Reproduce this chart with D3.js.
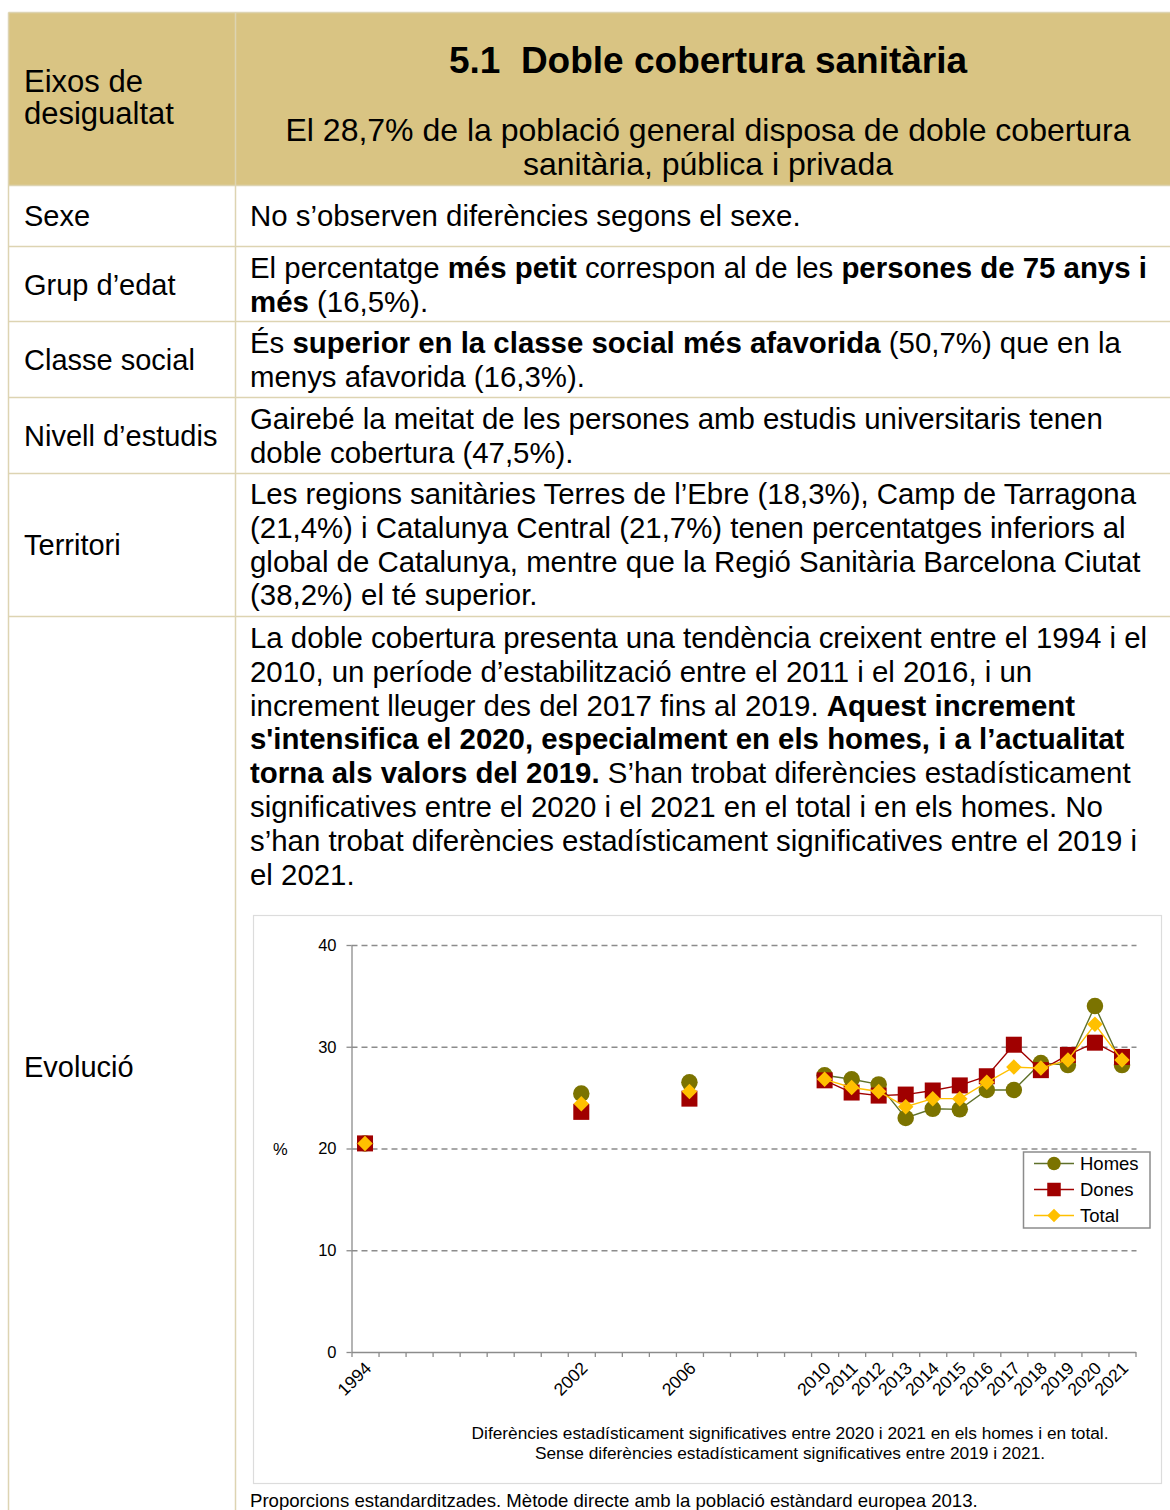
<!DOCTYPE html>
<html>
<head>
<meta charset="utf-8">
<script src="https://cdn.jsdelivr.net/npm/d3@7"></script>
<style>
  html, body { margin: 0; padding: 0; background: #fff; }
  svg { display: block; font-family: "Liberation Sans", Arial, Helvetica, sans-serif; }
</style>
</head>
<body>
<svg id="page" width="1170" height="1510"></svg>
<script>
// ---------- DATA ----------
const categories = ["1994","","","","","","","","2002","","","","2006","","","","",
  "2010","2011","2012","2013","2014","2015","2016","2017","2018","2019","2020","2021"];
const homes = [20.5,null,null,null,null,null,null,null,25.4,null,null,null,26.5,null,null,null,null,
  27.2,26.8,26.3,23.0,23.9,23.85,25.75,25.75,28.4,28.2,34.0,28.2];
const dones = [20.5,null,null,null,null,null,null,null,23.6,null,null,null,24.9,null,null,null,null,
  26.7,25.5,25.2,25.3,25.7,26.2,27.1,30.2,27.7,29.2,30.4,29.0];
const total = [20.5,null,null,null,null,null,null,null,24.4,null,null,null,25.6,null,null,null,null,
  26.8,26.0,25.6,24.1,24.9,24.9,26.5,28.0,27.9,28.7,32.2,28.7];
const yTicks = [0, 10, 20, 30, 40];
const seriesNames = ["Homes", "Dones", "Total"];

const headerLeft = ["Eixos de", "desigualtat"];
const title = "5.1  Doble cobertura sanitària";
const subtitle = ["El 28,7% de la població general disposa de doble cobertura", "sanitària, pública i privada"];
const rowLabels = ["Sexe", "Grup d’edat", "Classe social", "Nivell d’estudis", "Territori", "Evolució"];
const rowTexts = [
  [[["No s’observen diferències segons el sexe.", 0]]],
  [[["El percentatge ", 0], ["més petit", 1], [" correspon al de les ", 0], ["persones de 75 anys i", 1]],
   [["més", 1], [" (16,5%).", 0]]],
  [[["És ", 0], ["superior en la classe social més afavorida", 1], [" (50,7%) que en la", 0]],
   [["menys afavorida (16,3%).", 0]]],
  [[["Gairebé la meitat de les persones amb estudis universitaris tenen", 0]],
   [["doble cobertura (47,5%).", 0]]],
  [[["Les regions sanitàries Terres de l’Ebre (18,3%), Camp de Tarragona", 0]],
   [["(21,4%) i Catalunya Central (21,7%) tenen percentatges inferiors al", 0]],
   [["global de Catalunya, mentre que la Regió Sanitària Barcelona Ciutat", 0]],
   [["(38,2%) el té superior.", 0]]],
  [[["La doble cobertura presenta una tendència creixent entre el 1994 i el", 0]],
   [["2010, un període d’estabilització entre el 2011 i el 2016, i un", 0]],
   [["increment lleuger des del 2017 fins al 2019. ", 0], ["Aquest increment", 1]],
   [["s'intensifica el 2020, especialment en els homes, i a l’actualitat", 1]],
   [["torna als valors del 2019.", 1], [" S’han trobat diferències estadísticament", 0]],
   [["significatives entre el 2020 i el 2021 en el total i en els homes. No", 0]],
   [["s’han trobat diferències estadísticament significatives entre el 2019 i", 0]],
   [["el 2021.", 0]]]
];
const notes = ["Diferències estadísticament significatives entre 2020 i 2021 en els homes i en total.",
               "Sense diferències estadísticament significatives entre 2019 i 2021."];
const footer = "Proporcions estandarditzades. Mètode directe amb la població estàndard europea 2013.";

// ---------- LAYOUT ----------
const svg = d3.select("#page");
const T = { left: 8.5, col: 235.5, right: 1181, top: 12.5, headBottom: 185.5 };
const rowBounds = [185.5, 246.5, 321.5, 397.5, 473.5, 616.5, 1518];
const rowFirstBaseline = [226, 278, 353, 429, 504, 648];
const labelBaseline = [226, 295, 370, 446, 555, 1077];
const lineStep = 33.8;
const borderColor = "#ddd4b2";
const bodySize = 29.4;

// header
svg.append("rect").attr("x", T.left).attr("y", T.top).attr("width", T.right - T.left)
  .attr("height", T.headBottom - T.top).attr("fill", "#d9c483");
const bl = svg.append("g").attr("stroke", borderColor).attr("stroke-width", 1.5);
bl.append("line").attr("x1", T.left).attr("x2", T.right).attr("y1", T.top).attr("y2", T.top);
bl.append("line").attr("x1", T.left).attr("x2", T.left).attr("y1", T.top).attr("y2", 1518);
bl.append("line").attr("x1", T.col).attr("x2", T.col).attr("y1", T.top).attr("y2", 1518);
rowBounds.slice(0, 6).forEach(yy => {
  bl.append("line").attr("x1", T.left).attr("x2", T.right).attr("y1", yy).attr("y2", yy);
});

svg.append("g").selectAll("text").data(headerLeft).join("text")
  .attr("x", 24).attr("y", (d, i) => 91.5 + i * 32.5).attr("font-size", 31).attr("fill", "#000").text(d => d);
svg.append("text").attr("x", 708).attr("y", 73).attr("text-anchor", "middle")
  .attr("font-size", 37).attr("font-weight", "bold").attr("fill", "#000")
  .style("white-space", "pre").text(title);
svg.append("g").selectAll("text").data(subtitle).join("text")
  .attr("x", 708).attr("y", (d, i) => 140.5 + i * 34).attr("text-anchor", "middle")
  .attr("font-size", 32).attr("fill", "#000").text(d => d);

// rows
rowLabels.forEach((lab, r) => {
  svg.append("text").attr("x", 24).attr("y", labelBaseline[r]).attr("font-size", 29)
    .attr("fill", "#000").text(lab);
  rowTexts[r].forEach((line, li) => {
    const t = svg.append("text").attr("x", 250).attr("y", rowFirstBaseline[r] + li * lineStep)
      .attr("font-size", bodySize).attr("fill", "#000").style("white-space", "pre");
    line.forEach(seg => {
      t.append("tspan").attr("font-weight", seg[1] ? "bold" : "normal").text(seg[0]);
    });
  });
});

// ---------- CHART ----------
svg.append("rect").attr("x", 253.5).attr("y", 915.5).attr("width", 908).attr("height", 568)
  .attr("fill", "#fff").attr("stroke", "#dcdcdc").attr("stroke-width", 1.2);

const plot = { x0: 351.5, x1: 1135.5, y0: 1352, y1: 945 };
const xb = d3.scaleLinear().domain([0, categories.length]).range([plot.x0, plot.x1]);
const xc = i => xb(i + 0.5);
const y = d3.scaleLinear().domain([0, 40]).range([plot.y0, plot.y1]);
const axisColor = "#8c8c8c";

// gridlines
const grid = svg.append("g").attr("transform", `translate(${plot.x0},0)`)
  .call(d3.axisLeft(y).tickValues(yTicks.filter(v => v > 0)).tickSize(-(plot.x1 - plot.x0 + 1)).tickFormat(""));
grid.select(".domain").remove();
grid.selectAll("line").attr("stroke", axisColor).attr("stroke-width", 1.3).attr("stroke-dasharray", "6,4");

// y axis
const ya = svg.append("g").attr("transform", `translate(${plot.x0},0)`)
  .call(d3.axisLeft(y).tickValues(yTicks).tickSize(5).tickPadding(10).tickSizeOuter(0));
ya.select(".domain").attr("stroke", axisColor).attr("stroke-width", 1.3);
ya.selectAll(".tick line").attr("stroke", axisColor).attr("stroke-width", 1.3);
ya.selectAll(".tick text").attr("font-size", 16.5).attr("fill", "#000")
  .attr("font-family", "Liberation Sans, Arial, sans-serif");
svg.append("text").attr("x", 273).attr("y", y(20) + 6).attr("font-size", 16.5).attr("fill", "#000").text("%");

// x axis
const xa = svg.append("g").attr("transform", `translate(0,${plot.y0})`)
  .call(d3.axisBottom(xb).tickValues(d3.range(categories.length + 1)).tickSize(5).tickSizeOuter(0).tickFormat(""));
xa.select(".domain").attr("stroke", axisColor).attr("stroke-width", 1.3);
xa.selectAll(".tick line").attr("stroke", axisColor).attr("stroke-width", 1.3);
svg.append("g").selectAll("text").data(categories.map((c, i) => ({ c, i })).filter(d => d.c !== "")).join("text")
  .attr("transform", d => `translate(${xc(d.i) + 3},${plot.y0 + 13}) rotate(-45)`)
  .attr("text-anchor", "end").attr("dy", "0.35em").attr("font-size", 17.5).attr("fill", "#000")
  .text(d => d.c);

// series
const series = [
  { name: seriesNames[0], values: homes, line: "#5f712b", fill: "#7b7300", shape: "circle" },
  { name: seriesNames[1], values: dones, line: "#a00000", fill: "#a00000", shape: "square" },
  { name: seriesNames[2], values: total, line: "#ffc000", fill: "#ffc000", shape: "diamond" }
];
const lineGen = d3.line().defined(d => d.v != null).x(d => xc(d.i)).y(d => y(d.v));
function marker(g, shape, cx, cy, s, fill) {
  if (shape === "circle") {
    g.append("circle").attr("cx", cx).attr("cy", cy).attr("r", s / 2).attr("fill", fill);
  } else if (shape === "square") {
    g.append("rect").attr("x", cx - s / 2).attr("y", cy - s / 2).attr("width", s).attr("height", s).attr("fill", fill);
  } else {
    const h = s / 2;
    g.append("path").attr("d", `M${cx},${cy - h}L${cx + h},${cy}L${cx},${cy + h}L${cx - h},${cy}Z`).attr("fill", fill);
  }
}
const sizes = { circle: 16.5, square: 16, diamond: 15.5 };
series.forEach(s => {
  const pts = s.values.map((v, i) => ({ v, i }));
  const g = svg.append("g");
  g.append("path").datum(pts).attr("d", lineGen).attr("fill", "none")
    .attr("stroke", s.line).attr("stroke-width", 1.4);
  pts.filter(d => d.v != null).forEach(d => marker(g, s.shape, xc(d.i), y(d.v), sizes[s.shape], s.fill));
});

// legend
const lg = svg.append("g");
lg.append("rect").attr("x", 1023.5).attr("y", 1152).attr("width", 126.5).attr("height", 76)
  .attr("fill", "#fff").attr("stroke", "#8c8c8c").attr("stroke-width", 1.5);
series.forEach((s, k) => {
  const cy = 1163.5 + k * 26;
  lg.append("line").attr("x1", 1034).attr("x2", 1074).attr("y1", cy).attr("y2", cy)
    .attr("stroke", s.line).attr("stroke-width", 1.4);
  marker(lg, s.shape, 1054, cy, 13.5, s.fill);
  lg.append("text").attr("x", 1080).attr("y", cy + 6.5).attr("font-size", 18.5).attr("fill", "#000").text(s.name);
});

// notes
svg.append("g").selectAll("text").data(notes).join("text")
  .attr("x", 790).attr("y", (d, i) => 1439 + i * 20).attr("text-anchor", "middle")
  .attr("font-size", 17.3).attr("fill", "#000").text(d => d);
svg.append("text").attr("x", 250).attr("y", 1507).attr("font-size", 18.6).attr("fill", "#000").text(footer);
</script>
</body>
</html>
